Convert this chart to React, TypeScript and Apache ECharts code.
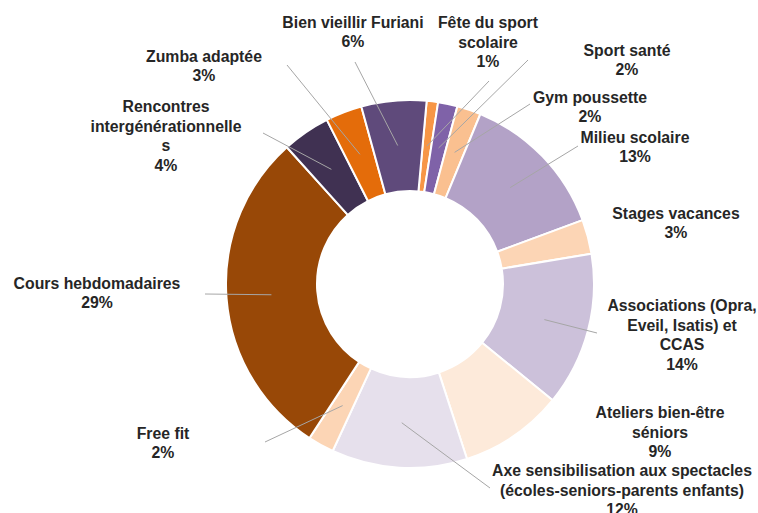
import React, { useEffect, useRef } from "react";
import * as echarts from "echarts";

const categories = [
  "Fête du sport\nscolaire",
  "Sport santé",
  "Gym poussette",
  "Milieu scolaire",
  "Stages vacances",
  "Associations (Opra,\nEveil, Isatis) et\nCCAS",
  "Ateliers bien-être\nséniors",
  "Axe sensibilisation aux spectacles\n(écoles-seniors-parents enfants)",
  "Free fit",
  "Cours hebdomadaires",
  "Rencontres\nintergénérationnelle\ns",
  "Zumba adaptée",
  "Bien vieillir Furiani",
];

const values = [1.0, 1.7, 2.1, 13.1, 3.0, 13.5, 9.1, 11.9, 2.3, 29.1, 4.2, 3.2, 5.7];

const colors = [
  "#F79646",
  "#7F62A8",
  "#FAC090",
  "#B3A2C7",
  "#FCD5B5",
  "#CCC1DA",
  "#FDEADA",
  "#E6E0EC",
  "#FCD5B5",
  "#984807",
  "#403152",
  "#E46C0A",
  "#5F4A7B",
];

// label placement (center of text block) and leader-line end, in pixels
const labelPlacement: { x: number; y: number; end: [number, number] | null }[] = [
  { x: 488, y: 42, end: [489, 81] },
  { x: 627, y: 60, end: [528, 60] },
  { x: 590, y: 107, end: [530, 104] },
  { x: 635, y: 147, end: [578, 146] },
  { x: 676, y: 223, end: null },
  { x: 682, y: 335, end: [597, 333] },
  { x: 660, y: 432, end: null },
  { x: 622, y: 490, end: [490, 488] },
  { x: 163, y: 443, end: [265, 442] },
  { x: 97, y: 293, end: [205, 294] },
  { x: 166, y: 136, end: [263, 133] },
  { x: 204, y: 66, end: [287, 65] },
  { x: 353, y: 32, end: [355, 62] },
];

const CX = 410;
const CY = 284;
const R_IN = 93;
const R_OUT = 184;
const R_LINE = 139;

export default function App() {
  const ref = useRef<HTMLDivElement>(null);
  useEffect(() => {
    if (!ref.current) return;
    const chart = echarts.init(ref.current, undefined, { renderer: "svg" });
    const common = {
      type: "pie",
      center: [CX, CY],
      radius: [R_IN, R_OUT],
      startAngle: 84.8,
      clockwise: true,
      avoidLabelOverlap: false,
      emphasis: { disabled: true },
      silent: true,
    };
    chart.setOption({
      animation: false,
      backgroundColor: "#ffffff",
      series: [
        {
          ...common,
          z: 2,
          itemStyle: { borderColor: "#ffffff", borderWidth: 2 },
          label: { show: false },
          labelLine: { show: false },
          data: categories.map((name, i) => ({
            name,
            value: values[i],
            itemStyle: { color: colors[i] },
          })),
        },
        {
          ...common,
          z: 5,
          itemStyle: { color: "rgba(0,0,0,0)", borderWidth: 0 },
          label: {
            show: true,
            position: "outside",
            formatter: (p: any) => `${p.name}\n${Math.round(p.percent)}%`,
            fontFamily: "Liberation Sans, Arial, sans-serif",
            fontWeight: "bold",
            fontSize: 15.8,
            lineHeight: 19.5,
            color: "#262626",
            align: "center",
          },
          labelLine: {
            show: true,
            lineStyle: { color: "#A6A6A6", width: 1 },
          },
          labelLayout: (params: any) => {
            const pl = labelPlacement[params.dataIndex];
            const out: any = { x: pl.x, y: pl.y, align: "center", verticalAlign: "middle", hideOverlap: false };
            const pts = params.labelLinePoints;
            if (pl.end && pts && pts.length) {
              const p0 = pts[0];
              const dx = p0[0] - CX;
              const dy = p0[1] - CY;
              const d = Math.sqrt(dx * dx + dy * dy) || 1;
              const start = [CX + (dx / d) * R_LINE, CY + (dy / d) * R_LINE];
              out.labelLinePoints = [start, pl.end];
            }
            return out;
          },
          data: categories.map((name, i) => ({
            name,
            value: values[i],
            labelLine: { show: labelPlacement[i].end !== null },
          })),
        },
      ],
    });
    return () => chart.dispose();
  }, []);
  return (
    <div
      ref={ref}
      style={{ position: "fixed", left: 0, top: 0, width: 758, height: 513, background: "#fff" }}
    />
  );
}
